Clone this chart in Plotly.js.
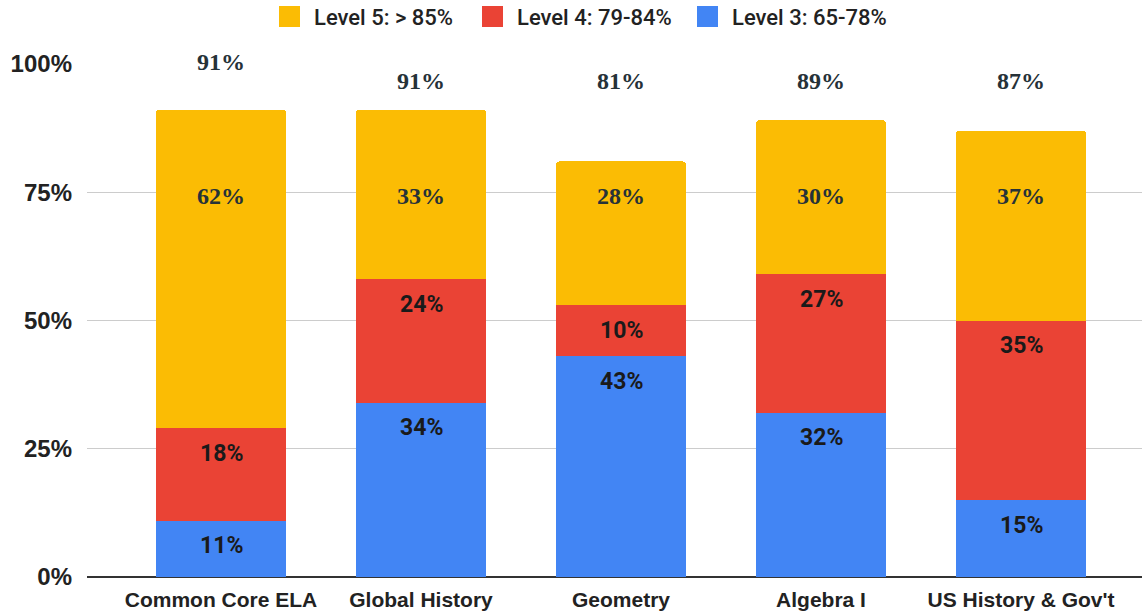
<!DOCTYPE html>
<html>
<head>
<meta charset="utf-8">
<script src="https://cdn.plot.ly/plotly-3.0.1.min.js"></script>
<style>html,body{margin:0;padding:0;background:#fff;}#chart{width:1142px;height:612px;}</style>
</head>
<body>
<div id="chart"></div>
<script>
const categories = ["Common Core ELA", "Global History", "Geometry", "Algebra I", "US History & Gov't"];
const level3 = [11, 34, 43, 32, 15];
const level4 = [18, 24, 10, 27, 35];
const level5 = [62, 33, 28, 30, 37];
const seriesNames = ["Level 5: > 85%", "Level 4: 79-84%", "Level 3: 65-78%"];
const yTicks = [0, 25, 50, 75, 100];

const colors = {l5: "#FBBC04", l4: "#EA4335", l3: "#4285F4"};
const txt = "#222222";

const traces = [
  {type: "bar", x: categories, y: level3, name: seriesNames[2], marker: {color: colors.l3}, hoverinfo: "none"},
  {type: "bar", x: categories, y: level4, name: seriesNames[1], marker: {color: colors.l4}, hoverinfo: "none"},
  {type: "bar", x: categories, y: level5, name: seriesNames[0], marker: {color: colors.l5}, hoverinfo: "none"}
];

const annotations = [];
const shapes = [];
const sansLbl = {family: "Roboto, Arial, sans-serif", size: 23, color: "#1a1a1a", weight: 700};
const serifLbl = {family: "Liberation Serif, 'Times New Roman', serif", size: 24, color: "#263238", weight: 700};

categories.forEach((c, i) => {
  const t3 = level3[i];
  const t4 = level3[i] + level4[i];
  const total = level3[i] + level4[i] + level5[i];
  annotations.push({x: c, y: t3, xref: "x", yref: "y", text: "<b>" + level3[i] + "%</b>", showarrow: false, yshift: -25, yanchor: "middle", font: sansLbl});
  annotations.push({x: c, y: t4, xref: "x", yref: "y", text: "<b>" + level4[i] + "%</b>", showarrow: false, yshift: -25, yanchor: "middle", font: sansLbl});
  annotations.push({x: c, y: 0.743, xref: "x", yref: "paper", text: "<b>" + level5[i] + "%</b>", showarrow: false, yanchor: "middle", font: serifLbl});
  annotations.push({x: c, y: i === 0 ? 1.004 : 0.967, xref: "x", yref: "paper", text: "<b>" + total + "%</b>", showarrow: false, yanchor: "middle", font: serifLbl});
});

// custom legend (large square swatches)
const legendColors = [colors.l5, colors.l4, colors.l3];
const legendX = [279, 482, 697];
legendColors.forEach((col, i) => {
  shapes.push({type: "rect", xref: "paper", yref: "paper",
    x0: (legendX[i] - 87) / 1055, x1: (legendX[i] + 21 - 87) / 1055,
    y0: (577 - 27) / 513, y1: (577 - 6) / 513,
    fillcolor: col, line: {width: 0}});
  annotations.push({xref: "paper", yref: "paper", x: (legendX[i] + 33 - 87) / 1055, y: (577 - 17) / 513,
    xanchor: "left", yanchor: "middle", text: seriesNames[i], showarrow: false,
    font: {family: "Roboto, Arial, sans-serif", size: 22, color: txt, weight: 500}});
});

const layout = {
  width: 1142, height: 612,
  margin: {l: 87, r: 0, t: 64, b: 35, autoexpand: false},
  paper_bgcolor: "#fff", plot_bgcolor: "#fff",
  barmode: "stack",
  bargap: 0.35,
  barcornerradius: 3,
  showlegend: false,
  xaxis: {
    type: "category", range: [-0.67, 4.605], fixedrange: true,
    showgrid: false, zeroline: false, showline: false, ticks: "",
    tickfont: {family: "Liberation Sans, Arial, sans-serif", size: 21, color: txt, weight: 700},
    ticklabelstandoff: 8, automargin: false
  },
  yaxis: {
    range: [0, 100], tickvals: yTicks, ticktext: yTicks.map(v => v + "%"),
    showgrid: true, gridcolor: "#cccccc", gridwidth: 1,
    zeroline: true, zerolinecolor: "#333333", zerolinewidth: 1.5,
    showline: false, ticks: "",
    tickfont: {family: "Liberation Sans, Arial, sans-serif", size: 24, color: txt, weight: 700},
    ticklabelstandoff: 14, automargin: false
  },
  annotations: annotations,
  shapes: shapes
};

Plotly.newPlot("chart", traces, layout, {displayModeBar: false, staticPlot: true});
</script>
</body>
</html>
